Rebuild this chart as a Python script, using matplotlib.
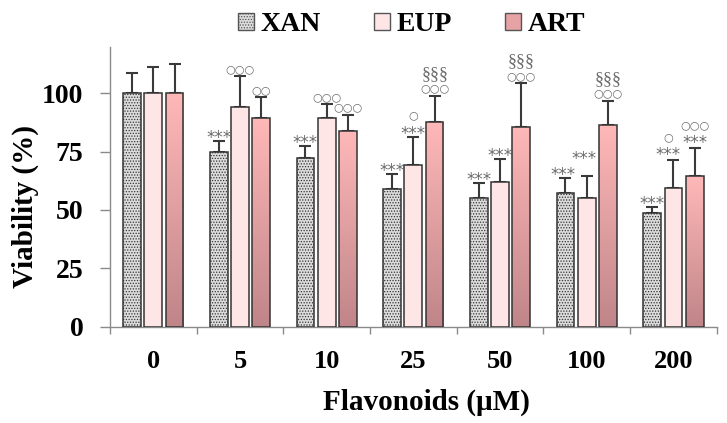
import numpy as np
import matplotlib
matplotlib.use("Agg")
import matplotlib.pyplot as plt
from matplotlib.patches import Patch
from matplotlib.colors import LinearSegmentedColormap

categories = ["0", "5", "10", "25", "50", "100", "200"]
series = ["XAN", "EUP", "ART"]
xan = [100, 75.0, 72.4, 58.9, 55.3, 57.1, 48.6]
eup = [100, 94.3, 89.3, 69.3, 62.1, 55.0, 59.6]
art = [100, 89.4, 84.0, 87.8, 85.7, 86.5, 64.6]
xan_err = [8.6, 4.6, 5.0, 6.4, 6.4, 6.5, 2.6]
eup_err = [11.1, 13.2, 6.1, 12.1, 9.6, 9.7, 11.8]
art_err = [12.5, 9.1, 6.8, 11.2, 18.7, 10.3, 11.8]
# significance marks per bar, listed bottom line first
xan_ann = [[], ["***"], ["***"], ["***"], ["***"], ["***"], ["***"]]
eup_ann = [[], ["○○○"], ["○○○"], ["***", "○"], ["***"], ["***"], ["***", "○"]]
art_ann = [[], ["○○"], ["○○○"], ["○○○", "§§§"], ["○○○", "§§§"], ["○○○", "§§§"], ["***", "○○○"]]
yticks = [0, 25, 50, 75, 100]

plt.rcParams["font.family"] = ["Liberation Serif", "DejaVu Serif"]
plt.rcParams["font.weight"] = "bold"
plt.rcParams["hatch.linewidth"] = 0.6

fig = plt.figure(figsize=(7.27, 4.23), dpi=100)
ax = fig.add_axes([0.1513, 0.2277, 0.8345, 0.6621])

x = np.arange(len(categories))
w = 0.204
off = 0.246
edge = "#333333"
axcol = "#8a8a8a"

b1 = ax.bar(x - off, xan, w, facecolor="#dcdcdc", edgecolor=edge, hatch="......", linewidth=1.1, zorder=3)
b2 = ax.bar(x, eup, w, facecolor="#ffe6e6", edgecolor=edge, linewidth=1.1, zorder=3)
b3 = ax.bar(x + off, art, w, facecolor="none", edgecolor=edge, linewidth=1.1, zorder=4)

cmap = LinearSegmentedColormap.from_list("pinkgrad", ["#c08589", "#ffb8b8"])
grad = np.linspace(0, 1, 256).reshape(-1, 1)
for rect in b3:
    x0, y0 = rect.get_x(), rect.get_y()
    im = ax.imshow(grad, cmap=cmap, origin="lower", aspect="auto",
                   extent=[x0, x0 + rect.get_width(), y0, y0 + rect.get_height()], zorder=3)
    im.set_clip_path(rect)

errc = "#3a3a3a"
for pos, vals, errs in [(x - off, xan, xan_err), (x, eup, eup_err), (x + off, art, art_err)]:
    ax.errorbar(pos, vals, yerr=[np.zeros(len(errs)), errs], fmt="none", ecolor=errc,
                elinewidth=1.5, capsize=4, capthick=1.5, zorder=2)

# layout nudges (pixels) for crowded marks: (series index, group index) -> (dx, dy)
nudge = {(0, 5): (-2, 0), (1, 5): (-3, 14), (1, 6): (-5, 2), (2, 6): (0, 2)}
annc = "#6a6a6a"
px = 72.0 / fig.dpi
for si, (pos, vals, errs, anns) in enumerate([(x - off, xan, xan_err, xan_ann), (x, eup, eup_err, eup_ann),
                                               (x + off, art, art_err, art_ann)]):
    for i in range(len(categories)):
        top = vals[i] + errs[i]
        dx, dy = nudge.get((si, i), (0, 0))
        for k, s in enumerate(anns[i]):
            yc = 8 + 14 * k + dy  # desired glyph centre above error-bar top, px
            if "*" in s:
                fam, fs, adj = ["DejaVu Sans"], 12, -5
            elif "○" in s:
                fam, fs, adj = ["DejaVu Sans"], 8, -1
            else:
                fam, fs, adj = ["Liberation Serif"], 13, -1
            ax.annotate(s, (pos[i], top), xytext=(dx * px, (yc + adj) * px), textcoords="offset points",
                        ha="center", va="center", fontsize=fs, family=fam, color=annc,
                        fontweight="normal")

ax.set_xlim(-0.5, len(categories) - 0.5)
ax.set_ylim(0, 120)
ax.set_yticks(yticks)
ax.set_yticklabels([str(t) for t in yticks], fontsize=20, fontweight="bold")
ax.set_xticks(x)
ax.set_xticklabels(categories, fontsize=19, fontweight="bold")
ax.set_xticks(np.arange(len(categories) + 1) - 0.5, minor=True)
ax.tick_params(axis="x", which="major", length=0, pad=17)
ax.tick_params(axis="x", which="minor", length=5, width=1, color=axcol, direction="out")
ax.tick_params(axis="y", length=7, width=1, color=axcol, direction="out", pad=12)
for s in ["top", "right"]:
    ax.spines[s].set_visible(False)
for s in ["left", "bottom"]:
    ax.spines[s].set_color(axcol)
    ax.spines[s].set_linewidth(1)

fig.text(426 / 727, 1 - 402 / 423, "Flavonoids (μM)", fontsize=21, fontweight="bold",
         ha="center", va="center")
fig.text(25 / 727, 1 - 206.5 / 423, "Viability (%)", fontsize=21, fontweight="bold",
         ha="center", va="center", rotation=90)

handles = [Patch(facecolor="#dcdcdc", edgecolor="#555555", hatch="......", label="XAN"),
           Patch(facecolor="#ffe6e6", edgecolor="#555555", label="EUP"),
           Patch(facecolor="#e6a3a6", edgecolor="#555555", label="ART")]
fig.legend(handles=handles, loc="center", bbox_to_anchor=(0.566, 0.941), ncol=3, frameon=False,
           prop={"family": "Liberation Serif", "weight": "bold", "size": 20},
           handlelength=0.58, handleheight=0.58, handletextpad=0.25, columnspacing=1.9)

fig.savefig("out.png", dpi=100)
